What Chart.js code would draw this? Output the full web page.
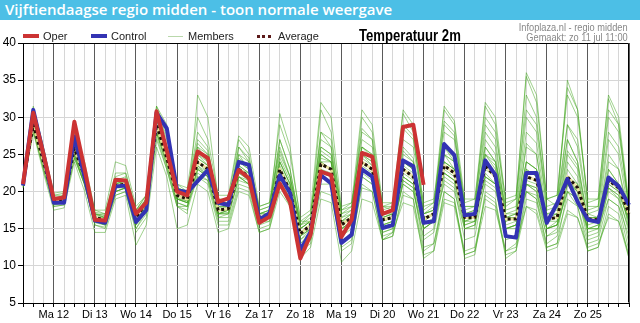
<!DOCTYPE html>
<html><head><meta charset="utf-8">
<script src="https://cdn.jsdelivr.net/npm/chart.js@4"></script>
<style>
body{margin:0;width:640px;height:323px;overflow:hidden;background:#fff;position:relative;font-family:"Liberation Sans",Arial,sans-serif}
#hdr{position:absolute;left:0;top:0;width:640px;height:20px;background:#4cbfe6;color:#fff;font:600 15px "Open Sans",sans-serif;line-height:19px;padding-left:5px;box-sizing:border-box;white-space:nowrap}
#c{position:absolute;left:0;top:0}
.t{position:absolute;white-space:nowrap;font-size:11px;color:#222;line-height:12px}
.ln{position:absolute}
</style></head><body>
<canvas id="c" width="640" height="323"></canvas>
<div id="hdr">Vijftiendaagse regio midden - toon normale weergave</div>
<div class="ln" style="left:23px;top:34px;width:16px;height:4px;background:#cc3333"></div>
<div class="t" style="left:43px;top:30px">Oper</div>
<div class="ln" style="left:91px;top:34px;width:16px;height:4px;background:#3333b3"></div>
<div class="t" style="left:111px;top:30px">Control</div>
<div class="ln" style="left:168px;top:36px;width:15px;height:1px;background:#b9d8ab"></div>
<div class="t" style="left:188px;top:30px">Members</div>
<div class="ln" style="left:257px;top:35px;width:14px;height:0;border-top:3px dotted #5c1a1a"></div>
<div class="t" style="left:278px;top:30px">Average</div>
<div class="t" style="left:359px;top:27px;font-size:16px;font-weight:bold;color:#000;line-height:18px;transform:scaleX(0.82);transform-origin:left center">Temperatuur 2m</div>
<div class="t" style="right:12px;top:21px;color:#888;font-size:11px;transform:scaleX(0.84);transform-origin:right center">Infoplaza.nl - regio midden</div>
<div class="t" style="right:12px;top:31px;color:#888;font-size:11px;transform:scaleX(0.84);transform-origin:right center">Gemaakt: zo 11 jul 11:00</div>
<script>
// Day labels at each midnight (every 4th 6-hourly step starting at index 3)
const dayLabels = ["Ma 12","Di 13","Wo 14","Do 15","Vr 16","Za 17","Zo 18","Ma 19","Di 20","Wo 21","Do 22","Vr 23","Za 24","Zo 25"];
const yTicks = [5,10,15,20,25,30,35,40];
const stepCount = 60;

const oper = [21,30.6,25, 19,19.2,29.4,23, 16.2,16.1,21.6,21.5, 17,18.5,30.8,25.5, 20,19.5,25.4,24.5, 18.6,19.1,22.9,21.8, 15.8,16.6,21.1,18.6, 11,14.2,22.7,22.2, 13.9,16.2,25.2,24.7, 17,17.5,28.7,29, 20.9];
const control = [20.8,31,25, 18.5,18.5,27.4,22, 16.1,15.8,20.7,20.8, 15.9,17.5,30.6,28.5, 20.2,19.9,21.4,22.9, 18.5,18.2,24,23.6, 16.2,17.1,22.2,19.8, 12.1,14.6,22.2,21.1, 13.1,14.2,23,22, 15.1,15.5,24.2,23.4, 15.8,16,26.4,24.9, 16.8,17,24.2,22.2, 14,13.8,22.5,22.5, 15.8,18.4,21.7,18.6, 16.2,15.9,21.9,20.7, 18.2];
const average = [21,29,24, 18.8,19,25.8,22, 16.5,16.2,20.8,21, 16.5,18.5,29,24.5, 19.5,19,24,23, 17.5,17.7,23,22, 16.5,17,23,20, 14.3,15.5,23.7,23, 15.5,16.5,24,23, 16.2,16.5,23,22, 16.3,17,23.5,22.5, 16.5,16.5,23.5,22, 16.3,16.3,22,21.5, 16.3,16.5,22,20.5, 16.3,16.2,21.5,20.5, 17];

const member01 = [21,30,24.5, 19,19.5,27,22.5, 17,16.5,21.5,21.5, 17,19,30.5,26, 20,19.5,26,25, 18.5,18.5,25,24, 17.5,18,26,22, 15.5,17,27,26, 17,18,28,27, 17.5,18,27,26, 17.5,18.5,28,27, 18,18,28,26, 17,17.5,30,28, 18,18.5,29,26, 17,17.5,28,26, 18];
const member02 = [20.5,28.5,23, 18,18.2,24.5,21, 15.5,15.2,19.5,20, 15,17,27,23, 18,17.5,22,21, 15.5,15.5,20.5,20, 14.5,15,20,18, 12,13.5,20,19.5, 12.5,13.5,20.5,20, 13.5,14,19.5,19, 12,13,19,18.5, 12,12.5,19,18, 11.5,12,18,17.5, 12.5,13,17.5,16.5, 12,12.5,17,16, 11.5];
const member03 = [21,29.5,25, 19.5,19.8,26,23, 17,16.8,22,22.5, 17.5,19,31,27, 20.5,20,28,26, 18,18,24,23, 16,16.5,22,19, 13,14.5,24,24, 16,17,25,24, 17,17,25,24, 15,16,26,24, 15,15,25,24, 17,17,24,23, 15,16,25,23, 14,14.5,23,21, 15];
const member04 = [21.5,30.5,25, 19,19,26.5,22, 16,15.8,20.5,21, 15.5,17.5,28,24, 19,18.5,23,22, 17,17.5,23.5,22.5, 17,17.5,24,21, 15,16,25,24, 16.5,17.5,26,25, 18,18,24,23, 17,18,25,23, 16,16,22,21, 15,15.5,21,20, 15,15.5,20,19, 15,15,19,18, 14];
const member05 = [21,29,24, 18.5,18.8,25.5,21.5, 16,15.5,20,20.5, 16,18,29.5,25, 18,17,33,30, 19,19,27,25, 17,17,30.5,26, 16,16,28,26, 15,15.5,23,22, 15.5,16,22,21, 15.5,16.5,24,23, 17,17.5,26,24, 18,19,35.5,32, 19,18,27,24, 16,16,24,23, 17];
const member06 = [20.8,28,23.5, 18.5,18.5,25,21, 16.5,16.5,21,21, 16,18.5,29,24, 19.5,19.5,24.5,23.5, 18,18,22,21, 16,17,23,20, 14,15,24,23, 15,16,24,23, 14.5,15,21,20, 14,15,22,21, 15,15.5,24,22, 15,15,20,19, 14,15,21,19, 15,15.5,21,20, 16];
const member07 = [21.2,29.5,24, 19,19.2,26,22.5, 17.5,17,21.5,21.5, 17.5,19.5,30,25, 20,19.5,25,24, 18.5,19,24.5,23.5, 18,18.5,25.5,22, 16,17,26,25, 17.5,18.5,27,26, 18,18.5,28.5,27, 18.5,19,29,27.5, 18.5,19,30,28, 19,19.5,31,29, 19,19.5,33,30, 19,19,32.5,29, 18];
const member08 = [20.8,28.5,23.5, 18.2,18.5,25,21, 15.5,15,19.5,20, 14.5,16.5,27.5,23, 18,18,22,21.5, 16,16,21,20.5, 15,15.5,21,19, 12.5,13.5,21,21, 13,14,22,21, 14,14.5,21.5,20.5, 12.5,13,20,19, 11.5,12,19.5,18.5, 12,12.5,19,18.5, 13,14,19,18, 13,13.5,19,18, 12];
const member09 = [21,29,24, 19,19,26,22, 16.5,16.5,21,21, 16.5,18.5,31.5,28, 21,20,26,24, 17,17,22,21.5, 16,16.5,22.5,20, 14.5,15.5,25,24, 16,16.5,23,22, 16,16.5,23,22, 16,17,23,22, 16,16.5,25,23, 16.5,16.5,24,23, 16,16,23,21, 16,16,22,21, 17];
const member10 = [21,29.5,24.5, 19.5,19.5,26,22.5, 17,16.5,21,21.5, 17,19,29.5,25.5, 19.5,19,24,22.5, 17,17.5,23,22, 16.5,17,23.5,20.5, 15,16,23,22, 15,16,24.5,23.5, 16.5,17,24,23, 17,17.5,24,23, 17,17,24,22.5, 16.5,17,23,22, 17,17,22,21, 17,16.5,22,20.5, 16.5];
const member11 = [21,28.5,23.5, 18.5,18.7,25,21.5, 16,16,20.5,20.5, 16,18,28,24, 19,18.5,23,22, 17.5,17.5,26,24, 17,17,27,23, 15.5,16,31,28, 17,17.5,30,28, 18,17.5,30.5,28, 17,17.5,31,29, 18,18,31.5,29, 17.5,18,33,30, 17.5,18,35,31, 18,18,31,29, 17.5];
const member12 = [21,29,24, 18.5,19,25.5,21.5, 16,15.5,20,20.5, 15,17.5,28.5,24, 19,18.5,23.5,22, 17,17,22,21, 16,16,21.5,19, 12,13,22,21, 12,13,21,20, 13.5,14,20,19, 11,12,20,19, 11,11.5,20,19, 11,12,20,19, 12.5,13,20,18, 12,12.5,18,17, 11];
const member13 = [21.3,30,24.5, 19,19.3,26.5,23, 17,16.8,21.5,22, 17,19,30,26, 20.5,20,26.5,25, 18.5,18.5,25,23, 17,17.5,25,22, 15,16,26,25, 16.5,17,26,25, 17,17.5,26,24.5, 16.5,17,25,24, 16.5,16.5,26,24, 16,16.5,26,25, 16,16.5,27,24, 16,16.5,27,25, 17];
const member14 = [20.7,28.5,23, 18.3,18.5,24.5,21, 16,16,20,20.5, 16,18,28,23.5, 18.5,18,22.5,21.5, 16.5,17,21.5,21, 16,16.5,22,19.5, 13.5,15,22.5,22, 14.5,15.5,22,21, 15,15.5,21,20, 15,16,21,20, 15,15.5,21,20, 15,15.5,20,19.5, 15,15.5,20,19, 14.5,15,20,19, 15];
const member15 = [21,29,24, 19,19,25.5,22, 16.5,16,20.5,21, 16.5,18.5,29,24.5, 19.5,19,25,23.5, 17.5,18,23,22, 16.5,17,24,21, 14,15,24,23, 15.5,16.5,25,23.5, 16,16.5,23.5,22.5, 16,17,24,23, 17,17.5,23,22, 16,16.5,23,22, 16.5,17,22,20, 16.5,16.5,22,20, 16];
const member16 = [21,29.5,24, 18.8,19,25.8,22, 16.5,16,21,21, 16.5,18.5,29,24.5, 19.5,19,24,23, 17.5,17.5,23,22.5, 16.5,17,22.5,20, 14.5,15.5,23,22.5, 15.5,16.5,24,23, 16,16.5,22.5,21.5, 16.5,17,22.5,21.5, 16.5,16.5,22,21, 16.5,16.5,21,20.5, 16.5,16.5,21,20, 16.5,16.5,20.5,19.5, 16.5];
const member17 = [20.5,28,22.5, 17.5,17.8,24,20, 14.5,14.5,19,19.5, 12.8,15.5,26,22, 15,15.5,21,20, 14.5,15,20,19.5, 14.5,15,21,18, 11,12.5,19,18.5, 10.5,12,19,18.5, 13.5,14.5,18.5,18, 11.5,12,18.5,18, 11.5,12,18,17.5, 12,13,18,17, 12,12.5,17,16.5, 12.5,13,16.5,16, 11];
const member18 = [21.5,31.5,26, 19.8,20,28,24, 17.5,17.5,24,23.5, 18,19.5,31.5,29, 21,20.5,30,27, 19.5,19.5,27.5,26, 18,18.5,29,25, 16.5,17.5,32,30, 18,18.5,31,29, 18.5,18.5,31,29, 18,18.5,31.5,29.5, 19,19,32,30, 18.5,19,36,33, 19,19.5,34,31, 18.5,19,33,30, 18.5];
const member19 = [21,29.5,24, 19,19.2,26,22, 16.8,16.5,21,21.5, 16.5,18.5,30,25, 19,18.5,24.5,23.5, 17,17.5,23.5,22.5, 16,16.5,24,21, 13.5,14.5,24.5,24, 15,16,25,24, 15.5,16,24,23, 15,16,25,24, 15.5,16,25,23.5, 15,15.5,24,23, 15,15.5,24,22, 15,15,23,21, 15.5];
const member20 = [20.9,29,23.5, 18.6,18.8,25.5,21.5, 16.2,16,20.5,21, 16.2,18.2,28.5,24, 19,18.8,23.5,22.5, 17.5,17.5,22.5,21.5, 16.5,17,23,20.5, 14.5,15.5,23,22, 15.5,16.5,23.5,22.5, 16.5,17,22,21, 16.5,17,22.5,21.5, 16.5,17,22,21, 16.5,16.5,21.5,21, 16.5,17,21.5,20, 16.5,16.5,21,20, 17];
const member21 = [21.1,30,25, 19.2,19.4,26.8,23, 17.2,17,22.5,22.5, 17.5,19.5,31,27.5, 20.5,20,27,25.5, 18.5,18.5,26,24.5, 17.5,18,27,23, 15.5,16.5,28,27, 17.5,18,28.5,27, 17,17.5,29,27.5, 17,17.5,29.5,28, 17.5,18,29,27, 16.5,17,28,26.5, 17,17.5,29,27, 17.5,18,30,28, 18];
const member22 = [20.6,28.2,23, 18,18.2,24.8,20.8, 15.8,15.5,20,20.5, 15.5,17.5,28,23.5, 18.5,18,23,22, 16.5,16.5,22,21, 15.5,16,22,19.5, 13,14,22,21.5, 14,15,22.5,21.5, 14.5,15,21.5,20.5, 13.5,14.5,21.5,20.5, 13.5,14,21.5,20.5, 13.5,14,21,20, 14,14.5,21,19.5, 13.5,14,20.5,19, 13];
const member23 = [21,29.2,24.2, 18.9,19.1,26.2,22.3, 16.6,16.3,21.2,21.2, 16.8,18.8,29.5,25, 19.8,19.3,25.5,24, 17.8,18,24,23, 17,17.5,24.5,21.5, 15,16,25.5,24.5, 16,17,26,24.5, 16.5,17,25.5,24, 16.5,17,26,24.5, 16,16.5,27,25, 15.5,16,26.5,25, 16,16.5,25.5,23.5, 15.5,16,25,23, 16];
const member24 = [20.9,28.8,23.8, 18.7,18.9,25.3,21.8, 16.3,16,20.6,20.8, 16,18.2,28.8,24.2, 19.2,18.7,23.2,22.3, 17,17.2,22.5,21.6, 16,16.5,22.5,19.8, 14,15,22.5,22, 14.5,15.5,23,22, 15.5,16,22,21, 15,16,22.5,21.5, 15.5,16,22.5,21, 15,15.5,21,20.5, 15,15.5,21.5,20, 15,15.5,20.5,19.5, 14.5];
const members = [member01,member02,member03,member04,member05,member06,member07,member08,member09,member10,member11,member12,member13,member14,member15,member16,member17,member18,member19,member20,member21,member22,member23,member24];

const xLabels = [];
for (let i = 0; i < stepCount; i++) {
  const k = (i - 3) / 4;
  xLabels.push(Number.isInteger(k) && k >= 0 && k < dayLabels.length ? dayLabels[k] : "");
}
const isDay = i => (i - 3) % 4 === 0 && i >= 3;

const datasets = [
  {data: oper, borderColor: "#cc3333", borderWidth: 4},
  {data: control, borderColor: "#3333b3", borderWidth: 4},
  {data: average, borderColor: "#1e1208", borderWidth: 3, borderDash: [3,3]},
  {data: average, borderColor: "rgba(240,228,160,0.9)", borderWidth: 3}
];
members.forEach(m => datasets.push({data: m, borderColor: "rgba(65,165,30,0.5)", borderWidth: 1}));
datasets.forEach(d => { d.pointRadius = 0; d.tension = 0; d.fill = false; d.borderJoinStyle = "round"; });

const frame = {
  id: "frame",
  afterDraw(chart) {
    const {ctx, chartArea: a} = chart;
    ctx.save();
    ctx.strokeStyle = "#000"; ctx.lineWidth = 1;
    ctx.beginPath();
    ctx.moveTo(Math.round(a.left) + 0.5, Math.round(a.top) + 0.5);
    ctx.lineTo(Math.round(a.right) - 0.5, Math.round(a.top) + 0.5);
    ctx.lineTo(Math.round(a.right) - 0.5, Math.round(a.bottom) - 0.5);
    ctx.stroke();
    ctx.restore();
  }
};

new Chart(document.getElementById("c"), {
  type: "line",
  data: {labels: xLabels, datasets},
  plugins: [frame],
  options: {
    responsive: false, animation: false,
    layout: {padding: {top: 43, right: 11, left: 0, bottom: 0}},
    plugins: {legend: {display: false}, tooltip: {enabled: false}},
    scales: {
      x: {
        offset: false,
        afterFit: s => { s.height = 20; },
        grid: {
          color: c => isDay(c.index) ? "#5a5a5a" : "#d6d6d6",
          tickColor: "#000", tickLength: 4, lineWidth: 1
        },
        border: {color: "#000", width: 1},
        ticks: {autoSkip: false, maxRotation: 0, minRotation: 0, padding: 1,
          color: "#000", font: {family: "Liberation Sans", size: 11}}
      },
      y: {
        min: 5, max: 40,
        afterFit: s => { s.width = 23; },
        afterBuildTicks: s => { s.ticks = yTicks.map(v => ({value: v})); },
        grid: {color: "#d6d6d6", tickColor: "#000", tickLength: 5},
        border: {color: "#000", width: 1},
        ticks: {padding: 2, color: "#000", font: {family: "Liberation Sans", size: 12}}
      }
    }
  }
});
</script>
</body></html>
